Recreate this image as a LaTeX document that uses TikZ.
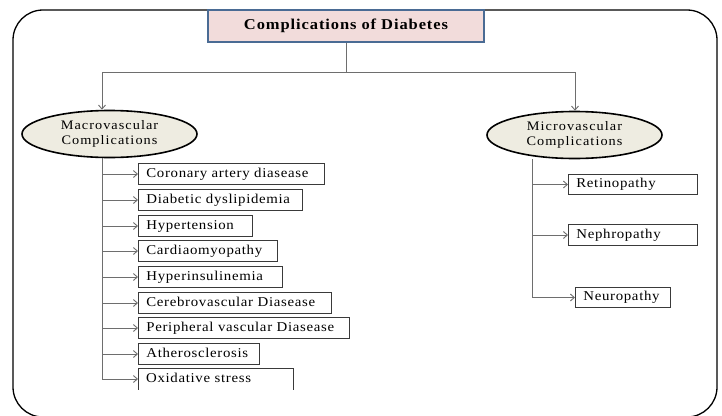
\documentclass[tikz,border=0pt]{standalone}
\usepackage{fontspec}
\setmainfont{Liberation Serif}
\newfontfamily\lblfont[FakeStretch=1.1,LetterSpace=5]{Liberation Serif}
\newfontfamily\ellfont[FakeStretch=1.1,LetterSpace=8]{Liberation Serif}
\newfontfamily\ttlfont[FakeStretch=1.1,LetterSpace=6]{Liberation Serif}
\usetikzlibrary{arrows.meta,shapes.geometric,calc}
\definecolor{connc}{HTML}{6E6E6E}
\definecolor{ttlfill}{HTML}{F2DCDB}
\definecolor{ttldraw}{HTML}{4A6B94}
\definecolor{ellfill}{HTML}{EEECE1}
\definecolor{boxc}{HTML}{3A3A3A}
\tikzset{
  frameline/.style={draw=black, line width=1.3pt, rounded corners=30pt},
  ttlbox/.style={draw=ttldraw, fill=ttlfill, line width=1.8pt, minimum width=276pt, minimum height=32pt, inner sep=0pt,
    font=\ttlfont\bfseries\fontsize{15}{17}\selectfont},
  ellnode/.style={ellipse, draw=black, line width=1.6pt, fill=ellfill, minimum width=175pt, minimum height=47pt,
    inner sep=0pt, align=center, font=\ellfont\fontsize{13}{15}\selectfont},
  itembox/.style={draw=boxc, line width=0.8pt, anchor=west, minimum height=20.5pt, inner xsep=8pt, inner ysep=0pt,
    text height=9.5pt, text depth=3pt, align=left, text width=#1, font=\lblfont\fontsize{13.5}{15}\selectfont},
  itemtext/.style={draw=none, anchor=west, minimum height=20.5pt, inner xsep=8pt, inner ysep=0pt,
    text height=9.5pt, text depth=3pt, align=left, text width=#1, font=\lblfont\fontsize{13.5}{15}\selectfont},
  boxedge/.style={draw=boxc, line width=0.8pt},
  connline/.style={draw=connc, line width=0.9pt},
  arr/.style={connline, -{Straight Barb[length=4pt,width=7pt]}}
}
\begin{document}
\begin{tikzpicture}[x=1pt,y=-1pt]
\clip (0,0) rectangle (722,415);
\fill[white] (0,0) rectangle (722,415);
% outer frame
\draw[frameline] (13,10) rectangle (717,417);
% title
\node[ttlbox] (title) at (346,26) {Complications of Diabetes};
% ellipses
\node[ellnode] (ellL) at (109.5,134) {Macrovascular\\Complications};
\node[ellnode] (ellR) at (574.5,135) {Microvascular\\Complications};
% junctions
\coordinate (jL) at (102,72);
\coordinate (jR) at (575,72);
\draw[connline] (title.south) -- (title.south |- jL);
\draw[connline] (jL) -- (jR);
\draw[arr] (jL) -- (jL |- ellL.north);
\draw[arr] (jR) -- (jR |- ellR.north);
% left list
\node[itembox=170pt] (b1) at (138,174) {Coronary artery diasease};
\node[itembox=148pt] (b2) at (138,200) {Diabetic dyslipidemia};
\node[itembox=98pt]  (b3) at (138,226) {Hypertension};
\node[itembox=123pt] (b4) at (138,251) {Cardiaomyopathy};
\node[itembox=128pt] (b5) at (138,277) {Hyperinsulinemia};
\node[itembox=177pt] (b6) at (138,303) {Cerebrovascular Diasease};
\node[itembox=195pt] (b7) at (138,328) {Peripheral vascular Diasease};
\node[itembox=105pt] (b8) at (138,354) {Atherosclerosis};
\node[itemtext=139pt] (b9) at (138,379) {Oxidative stress};
\draw[boxedge] ([yshift=-0.3pt]b9.south west) -- (b9.north west) -- (b9.north east) -- ([yshift=-0.3pt]b9.south east);
\coordinate (tL) at (102,379);
\draw[connline] (ellL.south -| tL) -- (tL);
\foreach \b in {b1,b2,b3,b4,b5,b6,b7,b8,b9}
  \draw[arr] (\b.west -| tL) -- (\b.west);
% right list
\node[itembox=113pt] (r1) at (568,184.5) {Retinopathy};
\node[itembox=113pt] (r2) at (568,235) {Nephropathy};
\node[itembox=79pt]  (r3) at (575,297.5) {Neuropathy};
\coordinate (tR) at (532,297.5);
\draw[connline] (ellR.south -| tR) -- (tR);
\foreach \b in {r1,r2,r3}
  \draw[arr] (\b.west -| tR) -- (\b.west);
\end{tikzpicture}
\end{document}
